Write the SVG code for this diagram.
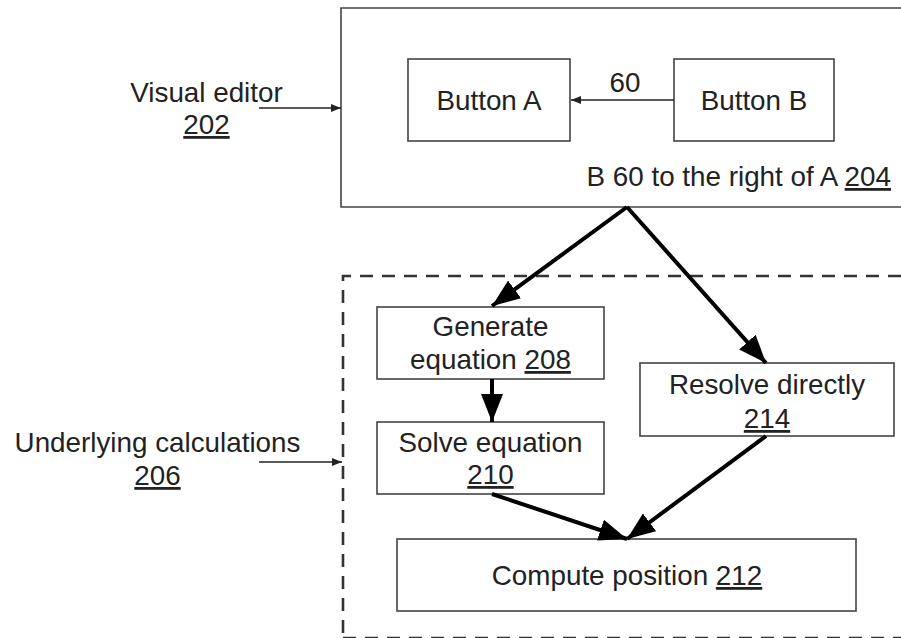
<svg xmlns="http://www.w3.org/2000/svg" width="901" height="638" viewBox="0 0 901 638">
<defs>
<marker id="thin" viewBox="0 0 10 8" refX="10" refY="4" markerWidth="10" markerHeight="8" markerUnits="userSpaceOnUse" orient="auto"><path d="M0,0 L10,4 L0,8 z" fill="#222"/></marker>
<marker id="thick" viewBox="0 0 28 22" refX="28" refY="11" markerWidth="28" markerHeight="22" markerUnits="userSpaceOnUse" orient="auto"><path d="M0,0 L28,11 L0,22 z" fill="#000"/></marker>
<style>
text{font-family:"Liberation Sans",Arial,sans-serif;font-size:27.8px;fill:#222}
.c{text-anchor:middle}
.u{text-decoration:underline}
.box{fill:#fff;stroke:#444;stroke-width:1.6}
.thinline{stroke:#222;stroke-width:1.4;fill:none}
.thickline{stroke:#000;stroke-width:4;fill:none}
.dash{stroke:#333;stroke-width:2.6;fill:none;stroke-dasharray:13 9}
</style>
</defs>
<rect width="901" height="638" fill="#fff"/>

<g id="visual-editor-202">
<path d="M901 8 H341 V207 H901" fill="none" stroke="#444" stroke-width="1.6"/>
<text x="891" y="186" style="text-anchor:end">B 60 to the right of A <tspan class="u">204</tspan></text>
</g>
<g id="underlying-calculations-206">
<path class="dash" d="M901 276 H343 V640"/>
<path class="dash" d="M343 638 H901"/>
</g>

<g id="label-visual-editor">
<text class="c" x="206.5" y="102">Visual editor</text>
<text class="c" x="206.5" y="134"><tspan class="u">202</tspan></text>
</g>
<g id="label-underlying">
<text class="c" x="157.5" y="452">Underlying calculations</text>
<text class="c" x="157.5" y="485"><tspan class="u">206</tspan></text>
</g>

<g id="button-a">
<rect class="box" x="408" y="59" width="162" height="82"/>
<text class="c" x="489" y="110">Button A</text>
</g>
<g id="button-b">
<rect class="box" x="674" y="59" width="160" height="82"/>
<text class="c" x="754" y="110">Button B</text>
</g>

<g id="generate-208">
<rect class="box" x="377" y="307" width="227" height="72"/>
<text class="c" x="490.5" y="336">Generate</text>
<text class="c" x="490.5" y="369">equation <tspan class="u">208</tspan></text>
</g>
<g id="solve-210">
<rect class="box" x="377" y="422" width="227" height="72"/>
<text class="c" x="490.5" y="452">Solve equation</text>
<text class="c" x="490.5" y="484"><tspan class="u">210</tspan></text>
</g>
<g id="resolve-214">
<rect class="box" x="640" y="363" width="254" height="73"/>
<text class="c" x="767" y="394">Resolve directly</text>
<text class="c" x="767" y="428"><tspan class="u">214</tspan></text>
</g>
<g id="compute-212">
<rect class="box" x="397" y="539" width="459" height="72"/>
<text class="c" x="627" y="585">Compute position <tspan class="u">212</tspan></text>
</g>

<g id="connectors">
<line class="thinline" x1="259" y1="108" x2="341" y2="108" marker-end="url(#thin)"/>
<line class="thinline" x1="674" y1="100" x2="571" y2="100" marker-end="url(#thin)"/>
<text class="c" x="625" y="92">60</text>
<line class="thinline" x1="259" y1="462" x2="342" y2="462" marker-end="url(#thin)"/>
<line class="thickline" x1="627" y1="207" x2="492" y2="306" marker-end="url(#thick)"/>
<line class="thickline" x1="627" y1="207" x2="766" y2="363" marker-end="url(#thick)"/>
<line class="thickline" x1="492" y1="379" x2="492" y2="422" marker-end="url(#thick)"/>
<line class="thickline" x1="492" y1="494" x2="627" y2="539" marker-end="url(#thick)"/>
<line class="thickline" x1="766" y1="436" x2="627" y2="539" marker-end="url(#thick)"/>
</g>
</svg>
